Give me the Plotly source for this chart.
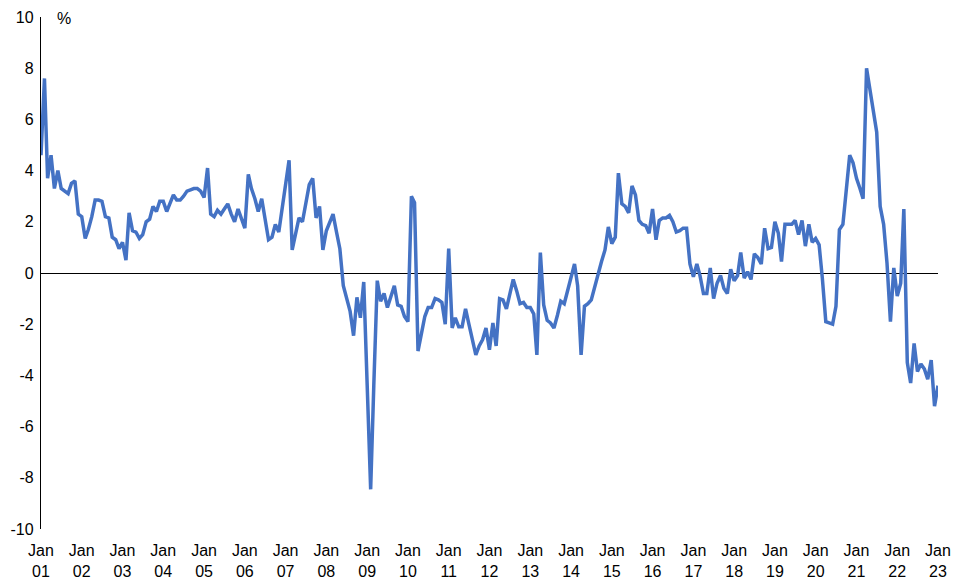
import plotly.graph_objects as go
import pandas as pd

# monthly % values, Jan 2001 .. Jan 2023
values_2001_2005 = [
    4.6, 7.6, 3.7, 4.6, 3.3, 4.0, 3.3, 3.2, 3.1, 3.5, 3.6, 2.3,
    2.2, 1.35, 1.7, 2.2, 2.85, 2.85, 2.8, 2.2, 2.15, 1.4, 1.3, 0.95,
    1.2, 0.5, 2.35, 1.65, 1.6, 1.35, 1.5, 2.0, 2.1, 2.6, 2.4, 2.8,
    2.8, 2.4, 2.7, 3.05, 2.85, 2.85, 3.0, 3.2, 3.25, 3.3, 3.3, 3.2,
    2.95, 4.1, 2.3, 2.2, 2.45, 2.3, 2.5, 2.7, 2.3, 2.0, 2.5, 2.1,
]
values_2006_2010 = [
    1.75, 3.85, 3.3, 2.9, 2.4, 2.9, 2.1, 1.3, 1.4, 1.9, 1.6, 2.5,
    3.5, 4.4, 0.9, 1.6, 2.15, 2.0, 2.8, 3.45, 3.7, 2.15, 2.6, 0.9,
    1.65, 2.0, 2.3, 1.6, 0.95, -0.5, -1.0, -1.5, -2.45, -0.95, -1.75, -0.35,
    -4.4, -8.45, -4.4, -0.3, -1.1, -0.8, -1.35, -0.9, -0.5, -1.25, -1.3, -1.7,
    -1.9, 3.0, 2.75, -3.05, -2.4, -1.7, -1.35, -1.35, -1.0, -1.05, -1.15, -2.0,
]
values_2011_2015 = [
    0.95, -2.15, -1.75, -2.1, -2.1, -1.4, -2.0, -2.6, -3.2, -2.85, -2.6, -2.15,
    -3.0, -1.95, -2.85, -1.0, -1.05, -1.4, -0.8, -0.25, -0.7, -1.2, -1.15, -1.35,
    -1.35, -1.6, -3.2, 0.8, -1.25, -1.85, -1.95, -2.15, -1.65, -1.1, -1.2, -0.7,
    -0.2, 0.35, -0.5, -3.2, -1.3, -1.2, -1.05, -0.55, 0.05, 0.45, 0.9, 1.8,
    1.15, 1.4, 3.9, 2.7, 2.6, 2.35, 3.4, 3.05, 2.05, 1.9, 1.85, 1.55,
]
values_2016_2020 = [
    2.5, 1.3, 2.05, 2.15, 2.15, 2.25, 2.0, 1.6, 1.65, 1.75, 1.75, 0.35,
    -0.15, 0.35, -0.1, -0.8, -0.8, 0.2, -1.0, -0.4, -0.1, -0.6, -0.8, 0.15,
    -0.3, -0.1, 0.8, -0.2, 0.05, -0.25, 0.75, 0.6, 0.35, 1.75, 0.95, 1.0,
    2.0, 1.55, 0.45, 1.9, 1.9, 1.9, 2.05, 1.5, 2.05, 1.05, 1.9, 1.2,
    1.35, 1.1, -0.2, -1.9, -1.95, -2.0, -1.3, 1.7, 1.9, 3.1, 4.6, 4.3,
]
values_2021_2023 = [
    3.7, 3.3, 2.9, 8.0, 7.1, 6.3, 5.5, 2.6, 1.9, 0.4, -1.9, 0.2,
    -0.9, -0.4, 2.5, -3.5, -4.3, -2.75, -3.85, -3.55, -3.75, -4.15, -3.4, -5.2,
    -4.4,
]
values = (values_2001_2005 + values_2006_2010 + values_2011_2015
          + values_2016_2020 + values_2021_2023)
dates = pd.date_range("2001-01-01", periods=len(values), freq="MS")

# axis ticks
x_tick_dates = pd.date_range("2001-01-01", "2023-01-01", freq="YS")
x_tick_labels = ["Jan<br>" + d.strftime("%y") for d in x_tick_dates]
y_tick_vals = [-10, -8, -6, -4, -2, 0, 2, 4, 6, 8, 10]
y_tick_labels = ["-10", "-8", "-6", "-4", "-2", "0", "2", "4", "6", "8", "10"]

fig = go.Figure()
fig.add_trace(go.Scatter(
    x=dates, y=values, mode="lines",
    line=dict(color="#4472C4", width=3.5),
    showlegend=False,
))

# the page body adds an 8px offset, so the figure is sized to the visible window
fig.update_layout(
    width=951, height=573,
    margin=dict(l=33, r=21, t=9, b=52),
    paper_bgcolor="white", plot_bgcolor="white",
    font=dict(family="Liberation Sans, Arial, sans-serif", size=16, color="black"),
    annotations=[dict(
        text="%", xref="paper", yref="paper", x=0.0255, y=1,
        xanchor="center", yanchor="middle", yshift=-1,
        showarrow=False, font=dict(size=16),
    )],
)
fig.update_xaxes(
    range=[dates[0], pd.Timestamp("2023-01-01")],
    tickvals=x_tick_dates, ticktext=x_tick_labels,
    showgrid=False, showline=False, zeroline=False,
    ticks="", ticklabelstandoff=10, automargin=False,
    ticklabeloverflow="allow",
)
fig.update_yaxes(
    range=[-10, 10],
    tickvals=y_tick_vals, ticktext=y_tick_labels,
    showgrid=False, showline=True, linecolor="black", linewidth=1.3,
    zeroline=True, zerolinecolor="black", zerolinewidth=1.3,
    ticks="", ticklabelstandoff=3, automargin=False,
    ticklabeloverflow="allow",
)

fig.write_html("out.html")
